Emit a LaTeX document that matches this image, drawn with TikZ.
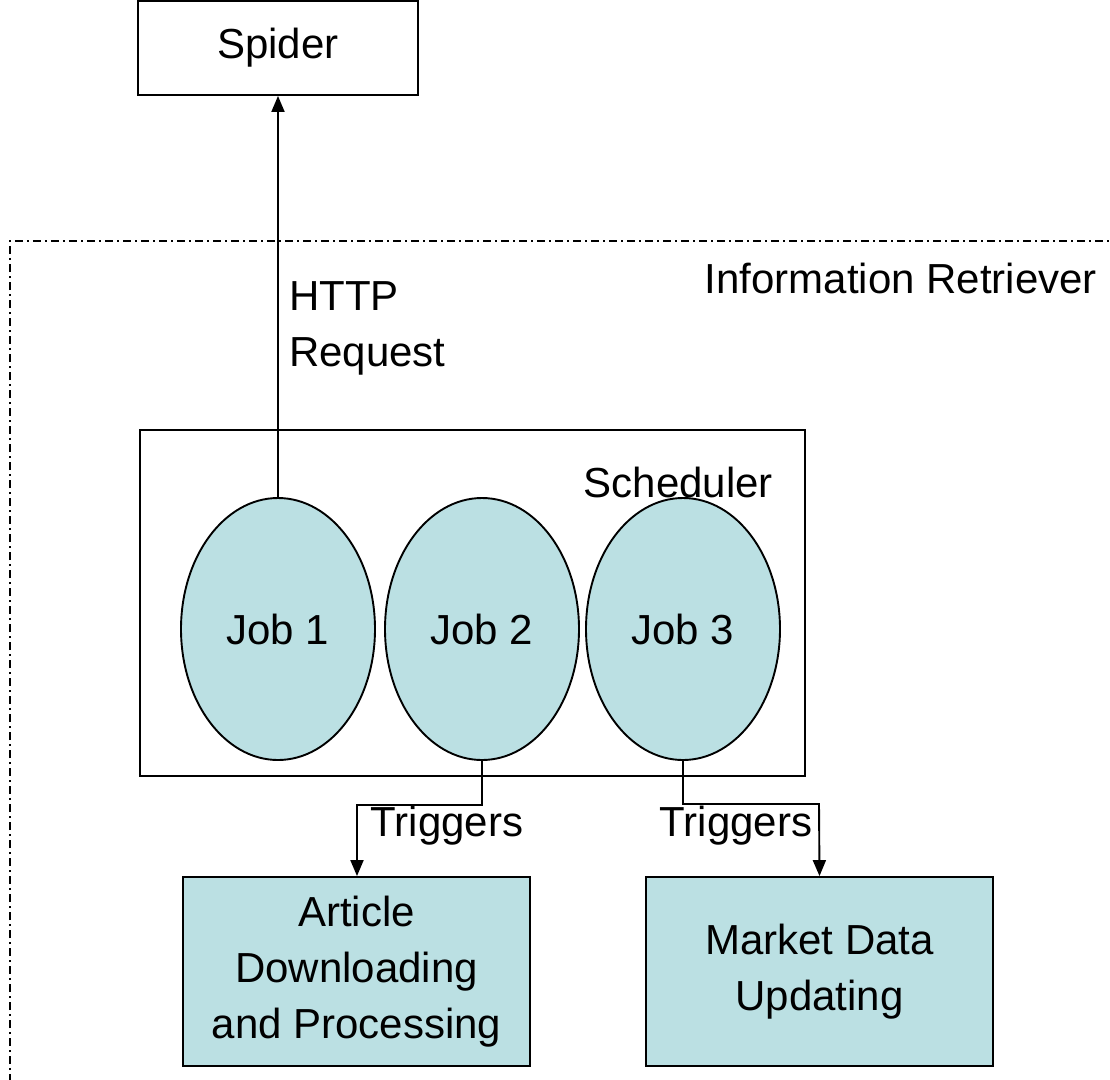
\documentclass[tikz,border=0pt]{standalone}
\usepackage{fontspec}
\setmainfont{Liberation Sans}
\usetikzlibrary{arrows.meta,shapes.geometric}
\definecolor{jobfill}{RGB}{187,224,227}
\begin{document}
\begin{tikzpicture}[x=1pt,y=-1pt,
  every node/.style={font=\fontsize{42}{56}\selectfont},
  boxline/.style={draw=black,line width=1.9pt},
  jobnode/.style={boxline,ellipse,fill=jobfill,minimum width=194pt,minimum height=262pt,inner sep=0pt},
  taskbox/.style={boxline,rectangle,fill=jobfill,minimum width=347pt,minimum height=189pt,inner sep=0pt,align=center},
  link/.style={line width=1.9pt,-{Triangle[length=16pt,width=13pt]}},
  label/.style={inner sep=0pt}]
\useasboundingbox (0,0) rectangle (1110,1079);
\fill[white] (0,0) rectangle (1110,1079);

% outer dash-dot frame of the retriever, running off the right and bottom edges
\begin{scope}
\clip (0,0) rectangle (1110,1079);
\draw[line width=1.6pt,dash pattern=on 8pt off 4pt on 2pt off 4pt] (10,1100) -- (10,241) -- (1130,241);
\end{scope}
\node[label,anchor=east] (ir) at (1097,278) {Information Retriever};

% spider
\node[boxline,rectangle,minimum width=280pt,minimum height=94pt,inner sep=0pt] (spider) at (278,48) {Spider};

% scheduler
\node[boxline,rectangle,minimum width=665pt,minimum height=346pt,inner sep=0pt] (sched) at (472.5,603) {};
\node[label,anchor=east] (schedlbl) at (773,482) {Scheduler};

\node[jobnode] (job1) at (278,629) {Job 1};
\node[jobnode] (job2) at (482,629) {Job 2};
\node[jobnode] (job3) at (683,629) {Job 3};

% tasks
\node[taskbox] (article) at (356.5,971.5) {Article\\Downloading\\and Processing};
\node[taskbox] (market) at (819.5,971.5) {Market Data\\Updating};

% connectors
\draw[link] (job1.north) -- (spider.south);
\node[label,anchor=north west,align=left] (http) at (289,281) {HTTP\\Request};

\coordinate (a1) at (482,805);
\coordinate (a2) at (357,805);
\draw[link] (job2.south) -- (a1) -- (a2) -- (article.north -| a2);
\node[label] (trig1) at (447,826) {Triggers};

\coordinate (b1) at (683,804);
\coordinate (b2) at (819,804);
\draw[link] (job3.south) -- (b1) -- (b2) -- (market.north);
\node[label] (trig2) at (736,826) {Triggers};
\end{tikzpicture}
\end{document}
